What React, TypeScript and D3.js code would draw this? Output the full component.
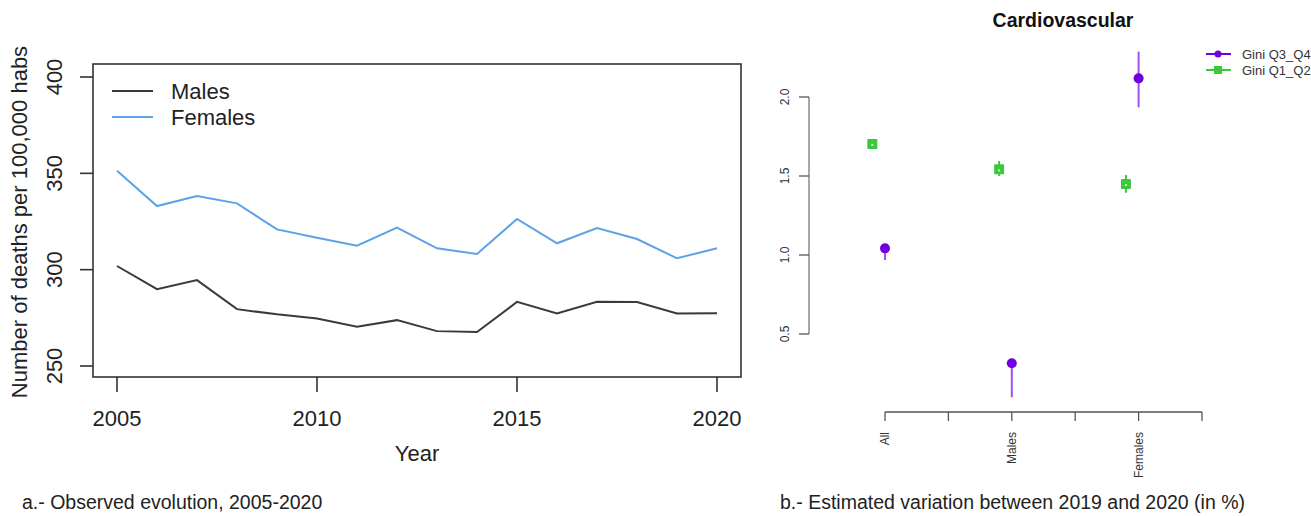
import React from "react";
import * as d3 from "d3";

// ---- Panel a: observed evolution ----
const years = [2005, 2006, 2007, 2008, 2009, 2010, 2011, 2012, 2013, 2014, 2015, 2016, 2017, 2018, 2019, 2020];
const males = [301.9, 289.9, 294.6, 279.5, 276.8, 274.7, 270.4, 273.8, 268.1, 267.6, 283.3, 277.3, 283.3, 283.2, 277.3, 277.4];
const females = [351.4, 333.0, 338.2, 334.4, 320.9, 316.6, 312.4, 321.8, 311.1, 308.1, 326.3, 313.7, 321.6, 315.9, 305.9, 311.1];
const yearTicks = [2005, 2010, 2015, 2020];
const deathTicks = [250, 300, 350, 400];
const legendA = ["Males", "Females"];

// ---- Panel b: estimated variation ----
const groups = ["All", "Males", "Females"];
const groupPos = [1, 2, 3];
const xTicksB = [1, 1.5, 2, 2.5, 3, 3.5];
const yTicksB = [0.5, 1.0, 1.5, 2.0];
const q34 = [1.042, 0.315, 2.118];
const q34Low = [0.968, 0.1, 1.935];
const q34High = [1.07, 0.34, 2.287];
const q12 = [1.703, 1.542, 1.449];
const q12Low = [1.69, 1.5, 1.394];
const q12High = [1.715, 1.595, 1.506];
const legendB = ["Gini Q3_Q4", "Gini Q1_Q2"];

const FONT = "'Liberation Sans', Arial, Helvetica, sans-serif";
const DARK = "#333333";
const MALE_C = "#3a3a3a";
const FEMALE_C = "#5ea2e6";
const PURPLE = "#7000dc";
const PURPLE_BAR = "#a050f0";
const GREEN = "#3cc83c";

export default function App() {
  // Panel a scales
  const xA = d3.scaleLinear().domain([2005, 2020]).range([117, 717]);
  const yA = d3.scaleLinear().domain([250, 400]).range([366, 77]);
  const line = d3
    .line<number>()
    .x((_, i) => xA(years[i]))
    .y((d) => yA(d));
  const box = { l: 93, t: 64, r: 741, b: 377 };

  // Panel b scales
  const xB = d3.scaleLinear().domain([1, 3.5]).range([885, 1202]);
  const yB = d3.scaleLinear().domain([0.5, 2.0]).range([334, 97]);
  const axisYx = 809;
  const greenShift = -0.1;

  return (
    <svg
      width={1311}
      height={516}
      style={{ position: "absolute", left: 0, top: 0, background: "#fff" }}
      fontFamily={FONT}
    >
      <rect x={0} y={0} width={1311} height={516} fill="#fff" />
      {/* ===== Panel a ===== */}
      <rect x={box.l} y={box.t} width={box.r - box.l} height={box.b - box.t} fill="none" stroke={DARK} strokeWidth={1.6} />
      {deathTicks.map((t) => (
        <g key={"yt" + t}>
          <line x1={80} x2={box.l} y1={yA(t)} y2={yA(t)} stroke={DARK} strokeWidth={1.6} />
          <text
            transform={`translate(${62},${yA(t)}) rotate(-90)`}
            textAnchor="middle"
            fontSize={22}
            fill="#222"
          >
            {t}
          </text>
        </g>
      ))}
      {yearTicks.map((t) => (
        <g key={"xt" + t}>
          <line x1={xA(t)} x2={xA(t)} y1={box.b} y2={392} stroke={DARK} strokeWidth={1.6} />
          <text x={xA(t)} y={426} textAnchor="middle" fontSize={22} fill="#222">
            {t}
          </text>
        </g>
      ))}
      <text x={417} y={461} textAnchor="middle" fontSize={22} fill="#222">
        Year
      </text>
      <text
        transform={`translate(${27},${222}) rotate(-90)`}
        textAnchor="middle"
        fontSize={22}
        fill="#222"
      >
        Number of deaths per 100,000 habs
      </text>
      <path d={line(males) || ""} fill="none" stroke={MALE_C} strokeWidth={2} />
      <path d={line(females) || ""} fill="none" stroke={FEMALE_C} strokeWidth={2} />
      {legendA.map((name, i) => (
        <g key={name}>
          <line x1={112} x2={153} y1={91 + i * 26} y2={91 + i * 26} stroke={i === 0 ? MALE_C : FEMALE_C} strokeWidth={2} />
          <text x={171} y={99 + i * 26} fontSize={22} fill="#222">
            {name}
          </text>
        </g>
      ))}
      <text x={22} y={509} fontSize={19.5} fill="#222">
        a.- Observed evolution, 2005-2020
      </text>

      {/* ===== Panel b ===== */}
      <text x={1063} y={27} textAnchor="middle" fontSize={19.5} fontWeight="bold" fill="#111">
        Cardiovascular
      </text>
      {/* y axis */}
      <line x1={axisYx} x2={axisYx} y1={yB(0.5)} y2={yB(2.0)} stroke="#777" strokeWidth={1.3} />
      {yTicksB.map((t) => (
        <g key={"ybt" + t}>
          <line x1={799} x2={axisYx} y1={yB(t)} y2={yB(t)} stroke="#555" strokeWidth={1.3} />
          <text
            transform={`translate(${789},${yB(t)}) rotate(-90)`}
            textAnchor="middle"
            fontSize={12}
            fill="#333"
          >
            {t.toFixed(1)}
          </text>
        </g>
      ))}
      {/* x axis */}
      <line x1={xB(1)} x2={xB(3.5)} y1={412} y2={412} stroke="#555" strokeWidth={1.3} />
      {xTicksB.map((t) => (
        <line key={"xbt" + t} x1={xB(t)} x2={xB(t)} y1={412} y2={421} stroke="#555" strokeWidth={1.3} />
      ))}
      {groups.map((g, i) => (
        <text
          key={"gl" + g}
          transform={`translate(${xB(groupPos[i]) + 4},${432}) rotate(-90)`}
          textAnchor="end"
          fontSize={12}
          fill="#333"
        >
          {g}
        </text>
      ))}
      {/* Q1_Q2 green */}
      {groups.map((g, i) => {
        const cx = xB(groupPos[i] + greenShift);
        const cy = yB(q12[i]);
        return (
          <g key={"g12" + g}>
            <line x1={cx} x2={cx} y1={yB(q12Low[i])} y2={yB(q12High[i])} stroke={GREEN} strokeWidth={2} />
            <rect x={cx - 5} y={cy - 5} width={10} height={10} fill={GREEN} rx={1} />
            <rect x={cx - 1} y={cy} width={2} height={2} fill="#d8f5d8" />
          </g>
        );
      })}
      {/* Q3_Q4 purple */}
      {groups.map((g, i) => {
        const cx = xB(groupPos[i]);
        const cy = yB(q34[i]);
        return (
          <g key={"g34" + g}>
            <line x1={cx} x2={cx} y1={yB(q34Low[i])} y2={yB(q34High[i])} stroke={PURPLE_BAR} strokeWidth={2} />
            <circle cx={cx} cy={cy} r={5} fill={PURPLE} />
          </g>
        );
      })}
      {/* legend b */}
      {legendB.map((name, i) => (
        <g key={name}>
          <line x1={1206} x2={1231} y1={54 + i * 16} y2={54 + i * 16} stroke={i === 0 ? PURPLE : GREEN} strokeWidth={2} />
          {i === 0 ? (
            <circle cx={1218} cy={54} r={3.5} fill={PURPLE} />
          ) : (
            <rect x={1214} y={66} width={8} height={8} fill={GREEN} />
          )}
          <text x={1242} y={58.5 + i * 16} fontSize={13} fill="#333">
            {name}
          </text>
        </g>
      ))}
      <text x={780} y={509} fontSize={19.5} fill="#222">
        b.- Estimated variation between 2019 and 2020 (in %)
      </text>
    </svg>
  );
}
